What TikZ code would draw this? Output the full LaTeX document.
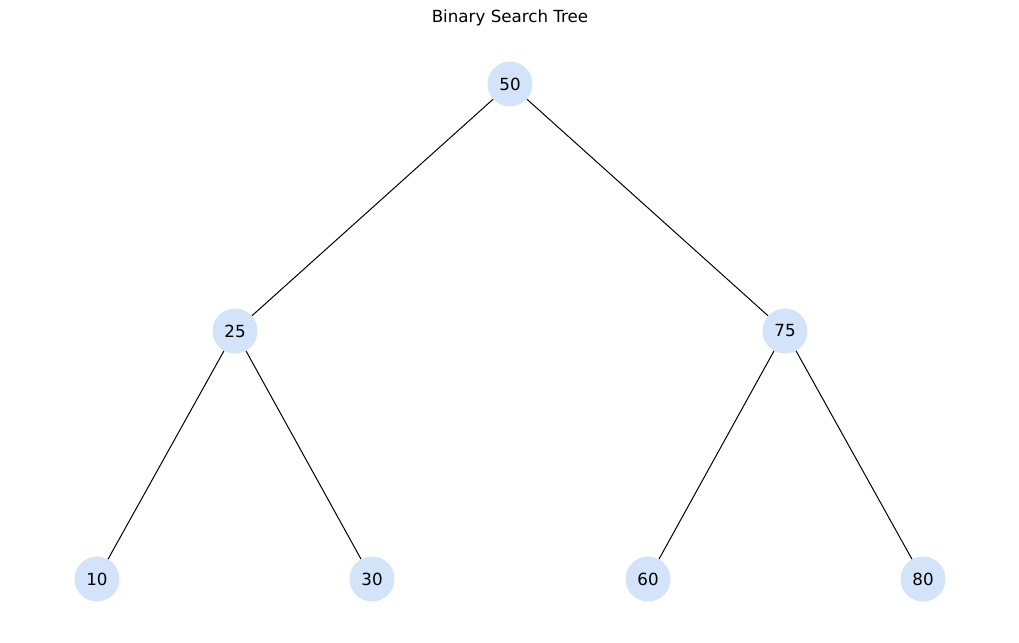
\documentclass[tikz,border=0pt]{standalone}
\usepackage{fontspec}
\setmainfont{DejaVu Sans}
\definecolor{nodefill}{RGB}{210,227,250}
\begin{document}
\begin{tikzpicture}[x=1pt,y=-1pt,
  bst/.style={circle,fill=nodefill,minimum size=45pt,inner sep=0pt,font=\fontsize{16.7}{20}\selectfont},
  edge/.style={draw=black,line width=1pt}]
\useasboundingbox (0,0) rectangle (1019,642);
\node[font=\fontsize{16.7}{20}\selectfont] (title) at (510,18) {Binary Search Tree};
\node[bst] (n50) at (510,84) {50};
\node[bst] (n25) at (235,331) {25};
\node[bst] (n75) at (785,331) {75};
\node[bst] (n10) at (97,579) {10};
\node[bst] (n30) at (372,579) {30};
\node[bst] (n60) at (648,579) {60};
\node[bst] (n80) at (923,579) {80};
\draw[edge] (n50) -- (n25);
\draw[edge] (n50) -- (n75);
\draw[edge] (n25) -- (n10);
\draw[edge] (n25) -- (n30);
\draw[edge] (n75) -- (n60);
\draw[edge] (n75) -- (n80);
\end{tikzpicture}
\end{document}
